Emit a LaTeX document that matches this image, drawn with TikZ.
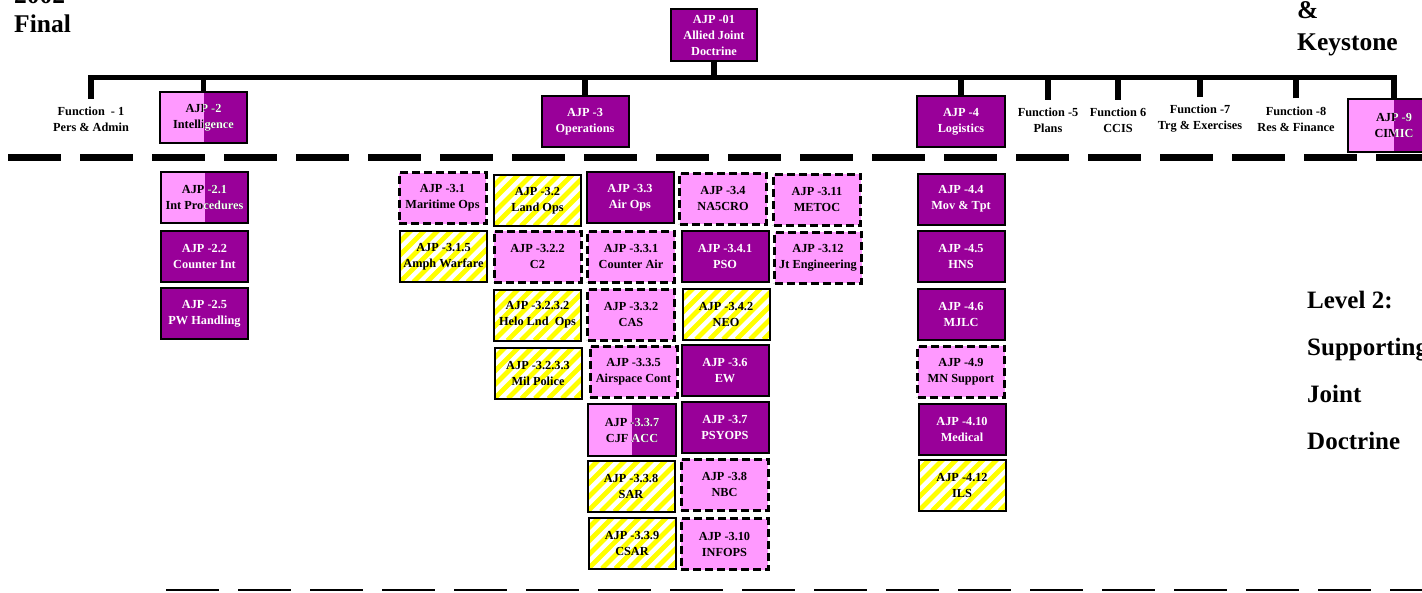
\documentclass[tikz,border=0pt]{standalone}
\usepackage{fontspec}
\setmainfont{Liberation Serif}
\usepackage{tikz}

\definecolor{jpurple}{HTML}{990099}
\definecolor{jpink}{HTML}{FF99FF}
\definecolor{jyellow}{HTML}{FFFF00}
\newcommand{\boxfont}{\fontsize{12.3}{16}\selectfont\bfseries}
% half pink / half purple box: name, position, options, text
\newcommand{\halfbox}[4]{%
  \node[box, #3, fill=jpink] (#1) at (#2) {};
  \begin{scope}
    \clip (#1.north) rectangle (#1.south east);
    \fill[jpurple] (#1.north) rectangle (#1.south east);
  \end{scope}
  \node[darktext] (#1-t) at (#1) {#4};
  \begin{scope}
    \clip (#1.north) rectangle (#1.south east);
    \node[lighttext] (#1-w) at (#1) {#4};
  \end{scope}
  \draw[line width=2pt] (#1.north west) rectangle (#1.south east);
}

\begin{document}
\begin{tikzpicture}[x=1pt,y=-1pt,
  box/.style={rectangle, minimum width=87pt, minimum height=51pt, inner sep=0pt},
  pubbox/.style={box, fill=jpurple, draw, line width=2pt},
  draftbox/.style={box, fill=jpink, draw, line width=3pt, dash pattern=on 8pt off 4pt},
  studybox/.style={box, fill=white, draw, line width=2pt,
    path picture={\foreach \k in {-5,...,8} \draw[jyellow, line width=4.8pt] ([xshift=\k*13.5pt]path picture bounding box.south west) -- ++(60,-60);}},
  boxtext/.style={align=center, font=\boxfont, inner sep=0pt},
  darktext/.style={boxtext, text=black},
  lighttext/.style={boxtext, text=white},
  func/.style={align=center, font=\boxfont, text=black, inner xsep=2pt, inner ysep=8pt},
  bus/.style={line width=5.5pt},
  big/.style={align=left, text=black, inner sep=0pt}]
\useasboundingbox (0,0) rectangle (1422,592);

% titles
\node[big, anchor=south west, font=\fontsize{25.5}{29}\selectfont\bfseries] (year) at (14,33) {2002\\Final};
\node[big, anchor=south west, font=\fontsize{25.5}{32}\selectfont\bfseries] (keys) at (1297,56) {\&\\Keystone};
\node[big, anchor=south west, font=\fontsize{25}{47}\selectfont\bfseries] (level) at (1307,450) {Level 2:\\Supporting\\Joint\\Doctrine};

% separators
\draw[line width=6.5pt, dash pattern=on 53pt off 19pt] (8,157.3) -- (1440,157.3);
\draw[line width=2pt, dash pattern=on 53pt off 19pt] (166,590) -- (1440,590);

% level 1
\node[pubbox, minimum width=86pt, minimum height=52pt] (ajp01) at (714,35) {};
\node[lighttext] (ajp01-t) at (ajp01) {AJP -01\\Allied Joint\\Doctrine};
\node[pubbox] (ajp3) at (585,121.5) {};
\node[lighttext] (ajp3-t) at (ajp3) {AJP -3\\Operations};
\node[pubbox, minimum width=88pt] (ajp4) at (961,121.5) {};
\node[lighttext] (ajp4-t) at (ajp4) {AJP -4\\Logistics};
\halfbox{ajp2}{203.5,117.5}{}{AJP -2\\Intelligence}
\halfbox{ajp9}{1394,125.5}{minimum width=92pt, minimum height=53pt}{AJP -9\\CIMIC}
\node[func] (f1) at (91,119.5) {Function\ \ - 1\\Pers \& Admin};
\node[func] (f5) at (1048,120.5) {Function\ -5\\Plans};
\node[func] (f6) at (1118,120.5) {Function 6\\CCIS};
\node[func] (f7) at (1200,119) {Function\ -7\\Trg \& Exercises};
\node[func] (f8) at (1296,119) {Function\ -8\\Res \& Finance};

% bus
\coordinate (bus) at (714,77.5);
\draw[bus] (f1.north) -- (f1.north |- bus) -- (ajp9.north |- bus) -- (ajp9.north);
\foreach \n in {ajp01.south, ajp2.north, ajp3.north, ajp4.north, f5.north, f6.north, f7.north, f8.north}
  \draw[bus] (\n) -- (\n |- bus);

% level 2: split boxes
\halfbox{a21}{204.5,197.5}{}{AJP -2.1\\Int Procedures}
\halfbox{a337}{632,430}{}{AJP -3.3.7\\CJF ACC}

% level 2: promulgated
\foreach \n/\x/\y/\t in {a22/204.5/256.5/{AJP -2.2\\Counter Int}, a25/204.5/313.5/{AJP -2.5\\PW Handling},
    a33/630/197.5/{AJP -3.3\\Air Ops}, a341/725/256.5/{AJP -3.4.1\\PSO}, a36/725/370.5/{AJP -3.6\\EW},
    a37/725/427.5/{AJP -3.7\\PSYOPS}, a44/961/199/{AJP -4.4\\Mov \& Tpt}, a45/961/256.5/{AJP -4.5\\HNS},
    a46/961/314/{AJP -4.6\\MJLC}, a410/962/429.5/{AJP -4.10\\Medical}}{
  \node[pubbox] (\n) at (\x,\y) {};
  \node[lighttext] (\n-t) at (\n) {\t};
}

% level 2: drafts
\foreach \n/\x/\y/\t in {a31/442.5/198/{AJP -3.1\\Maritime Ops}, a322/537.5/256.5/{AJP -3.2.2\\C2},
    a331/631/256.5/{AJP -3.3.1\\Counter Air}, a332/631/314.5/{AJP -3.3.2\\CAS},
    a335/633.5/371.5/{AJP -3.3.5\\Airspace Cont}, a34/723/198.5/{AJP -3.4\\NA5CRO},
    a38/724.5/484.5/{AJP -3.8\\NBC}, a310/724.5/544/{AJP -3.10\\INFOPS},
    a311/817/199.5/{AJP -3.11\\METOC}, a312/818/257.5/{AJP -3.12\\Jt Engineering},
    a49/961/371.5/{AJP -4.9\\MN Support}}{
  \node[draftbox] (\n) at (\x,\y) {};
  \node[darktext] (\n-t) at (\n) {\t};
}

% level 2: under study
\foreach \n/\x/\y/\t in {a315/443.5/256.5/{AJP -3.1.5\\Amph Warfare}, a32/537.5/200.5/{AJP -3.2\\Land Ops},
    a3232/537.5/315/{AJP -3.2.3.2\\Helo Lnd\ \ Ops}, a3233/538/373/{AJP -3.2.3.3\\Mil Police},
    a338/631/486/{AJP -3.3.8\\SAR}, a339/632/543/{AJP -3.3.9\\CSAR},
    a342/726/314/{AJP -3.4.2\\NEO}, a412/962/485.5/{AJP -4.12\\ILS}}{
  \node[studybox] (\n) at (\x,\y) {};
  \node[darktext] (\n-t) at (\n) {\t};
}
\end{tikzpicture}
\end{document}
